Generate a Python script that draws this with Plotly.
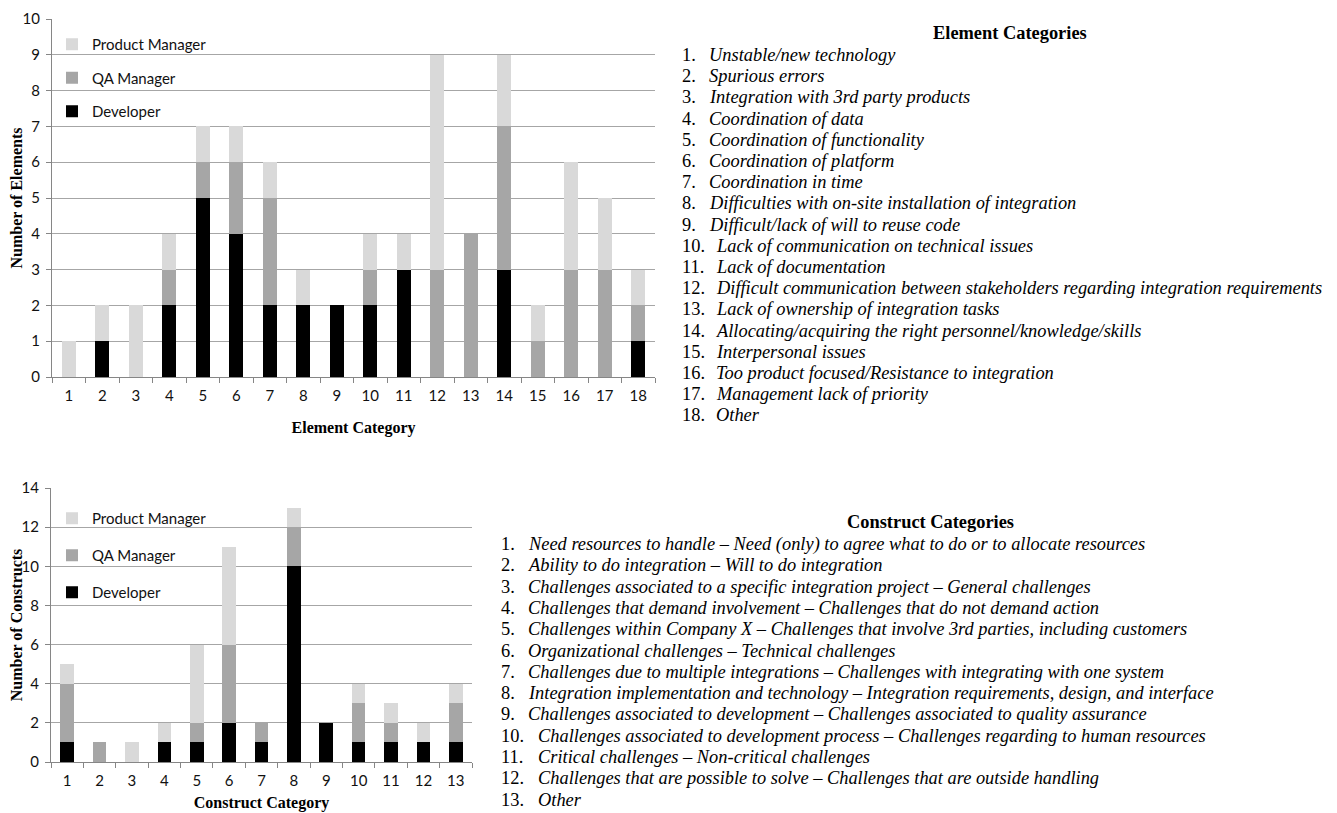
import plotly.graph_objects as go

# page has an 8px body margin, so the figure is drawn from (8, 8)
OFF = 8
W, H = 1337 - OFF, 813 - OFF

# ---------------- data ----------------
element_cats = [str(i) for i in range(1, 19)]
el_developer = [0, 1, 0, 2, 5, 4, 2, 2, 2, 2, 3, 0, 0, 3, 0, 0, 0, 1]
el_qa        = [0, 0, 0, 1, 1, 2, 3, 0, 0, 1, 0, 3, 4, 4, 1, 3, 3, 1]
el_pm        = [1, 1, 2, 1, 1, 1, 1, 1, 0, 1, 1, 6, 0, 2, 1, 3, 2, 1]

construct_cats = [str(i) for i in range(1, 14)]
co_developer = [1, 0, 0, 1, 1, 2, 1, 10, 2, 1, 1, 1, 1]
co_qa        = [3, 1, 0, 0, 1, 4, 1, 2, 0, 2, 1, 0, 2]
co_pm        = [1, 0, 1, 1, 4, 5, 0, 1, 0, 1, 1, 1, 1]

element_names = [
    "Unstable/new technology",
    "Spurious errors",
    "Integration with 3rd party products",
    "Coordination of data",
    "Coordination of functionality",
    "Coordination of platform",
    "Coordination in time",
    "Difficulties with on-site installation of integration",
    "Difficult/lack of will to reuse code",
    "Lack of communication on technical issues",
    "Lack of documentation",
    "Difficult communication between stakeholders regarding integration requirements",
    "Lack of ownership of integration tasks",
    "Allocating/acquiring the right personnel/knowledge/skills",
    "Interpersonal issues",
    "Too product focused/Resistance to integration",
    "Management lack of priority",
    "Other",
]

construct_names = [
    "Need resources to handle – Need (only) to agree what to do or to allocate resources",
    "Ability to do integration – Will to do integration",
    "Challenges associated to a specific integration project – General challenges",
    "Challenges that demand involvement – Challenges that do not demand action",
    "Challenges within Company X – Challenges that involve 3rd parties, including customers",
    "Organizational challenges – Technical challenges",
    "Challenges due to multiple integrations – Challenges with integrating with one system",
    "Integration implementation and technology – Integration requirements, design, and interface",
    "Challenges associated to development – Challenges associated to quality assurance",
    "Challenges associated to development process – Challenges regarding to human resources",
    "Critical challenges – Non-critical challenges",
    "Challenges that are possible to solve – Challenges that are outside handling",
    "Other",
]

roles = ["Developer", "QA Manager", "Product Manager"]
colors = {"Developer": "#000000", "QA Manager": "#a6a6a6", "Product Manager": "#d9d9d9"}
ranks = {"Developer": 3, "QA Manager": 2, "Product Manager": 1}

# ---------------- helpers (screen pixel -> paper fraction) ----------------
def px(x):
    return (x - OFF) / W

def py(y):
    return 1 - (y - OFF) / H

TICK_FONT = dict(family="Lato, Open Sans, sans-serif", size=15, color="#111111")
SERIF = "Liberation Serif, Times New Roman, serif"
LIST_SIZE = 18.4

fig = go.Figure()

for role, vals in zip(roles, [el_developer, el_qa, el_pm]):
    fig.add_trace(go.Bar(
        x=element_cats, y=vals, name=role, marker_color=colors[role],
        marker_line_width=0, xaxis="x", yaxis="y", legend="legend",
        legendgroup="t" + role, legendrank=ranks[role],
    ))
for role, vals in zip(roles, [co_developer, co_qa, co_pm]):
    fig.add_trace(go.Bar(
        x=construct_cats, y=vals, name=role, marker_color=colors[role],
        marker_line_width=0, xaxis="x2", yaxis="y2", legend="legend2",
        legendgroup="b" + role, legendrank=ranks[role],
    ))

axis_common = dict(
    showline=True, linecolor="#868686", linewidth=1,
    ticks="outside", tickcolor="#868686", ticklen=5,
    tickfont=TICK_FONT, zeroline=False, automargin=False,
    ticklabeloverflow="allow",
)

fig.update_layout(
    width=W, height=H,
    margin=dict(l=0, r=0, t=0, b=0, autoexpand=False),
    paper_bgcolor="white", plot_bgcolor="white",
    barmode="stack",
    bargap=0.58,
    xaxis=dict(
        domain=[px(52), px(655)], anchor="y", type="category",
        tickson="boundaries", showgrid=False, ticklabelstandoff=5, **axis_common,
        title=dict(text="<b>Element Category</b>",
                   font=dict(family=SERIF, size=16, color="#000"), standoff=18),
    ),
    yaxis=dict(
        domain=[py(377), py(19)], anchor="x", range=[0, 10], dtick=1,
        showgrid=True, gridcolor="#a6a6a6", gridwidth=1, ticklabelstandoff=3,
        **axis_common,
        title=dict(text="<b>Number of Elements</b>",
                   font=dict(family=SERIF, size=16, color="#000"), standoff=1),
    ),
    xaxis2=dict(
        domain=[px(51), px(472)], anchor="y2", type="category",
        tickson="boundaries", showgrid=False, ticklabelstandoff=5, **axis_common,
        title=dict(text="<b>Construct Category</b>",
                   font=dict(family=SERIF, size=16, color="#000"), standoff=8),
    ),
    yaxis2=dict(
        domain=[py(762), py(488)], anchor="x2", range=[0, 14], dtick=2,
        showgrid=True, gridcolor="#a6a6a6", gridwidth=1, ticklabelstandoff=3,
        **axis_common,
        title=dict(text="<b>Number of Constructs</b>",
                   font=dict(family=SERIF, size=16, color="#000"), standoff=1),
    ),
    legend=dict(
        x=px(52), y=py(28), xanchor="left", yanchor="top",
        traceorder="grouped", tracegroupgap=11,
        bgcolor="rgba(0,0,0,0)", itemwidth=30,
        font=dict(family="Lato, Open Sans, sans-serif", size=15, color="#111111"),
    ),
    legend2=dict(
        x=px(52), y=py(502), xanchor="left", yanchor="top",
        traceorder="grouped", tracegroupgap=14.5,
        bgcolor="rgba(0,0,0,0)", itemwidth=30,
        font=dict(family="Lato, Open Sans, sans-serif", size=15, color="#111111"),
    ),
    showlegend=True,
)

annotations = []
# ---- Element categories list ----
annotations.append(dict(
    text="<b>Element Categories</b>", x=px(1010), y=py(33), xref="paper", yref="paper",
    xanchor="center", yanchor="middle", showarrow=False,
    font=dict(family=SERIF, size=LIST_SIZE, color="#000"),
))
for i, name in enumerate(element_names):
    yy = 55 + i * 21.2
    annotations.append(dict(
        text=f"{i + 1}.", x=px(680), y=py(yy), xref="paper", yref="paper",
        xanchor="left", yanchor="middle", showarrow=False,
        font=dict(family=SERIF, size=LIST_SIZE, color="#000"),
    ))
    annotations.append(dict(
        text=f"<i>{name}</i>", x=px(707 if i < 9 else 714), y=py(yy),
        xref="paper", yref="paper", xanchor="left", yanchor="middle",
        showarrow=False, font=dict(family=SERIF, size=LIST_SIZE, color="#000"),
    ))

# ---- Construct categories list ----
annotations.append(dict(
    text="<b>Construct Categories</b>", x=px(930), y=py(522), xref="paper", yref="paper",
    xanchor="center", yanchor="middle", showarrow=False,
    font=dict(family=SERIF, size=LIST_SIZE, color="#000"),
))
for i, name in enumerate(construct_names):
    yy = 544 + i * 21.3
    annotations.append(dict(
        text=f"{i + 1}.", x=px(499), y=py(yy), xref="paper", yref="paper",
        xanchor="left", yanchor="middle", showarrow=False,
        font=dict(family=SERIF, size=LIST_SIZE, color="#000"),
    ))
    annotations.append(dict(
        text=f"<i>{name}</i>", x=px(526 if i < 9 else 536), y=py(yy),
        xref="paper", yref="paper", xanchor="left", yanchor="middle",
        showarrow=False, font=dict(family=SERIF, size=LIST_SIZE, color="#000"),
    ))

fig.update_layout(annotations=annotations)

fig.write_html("out.html")
